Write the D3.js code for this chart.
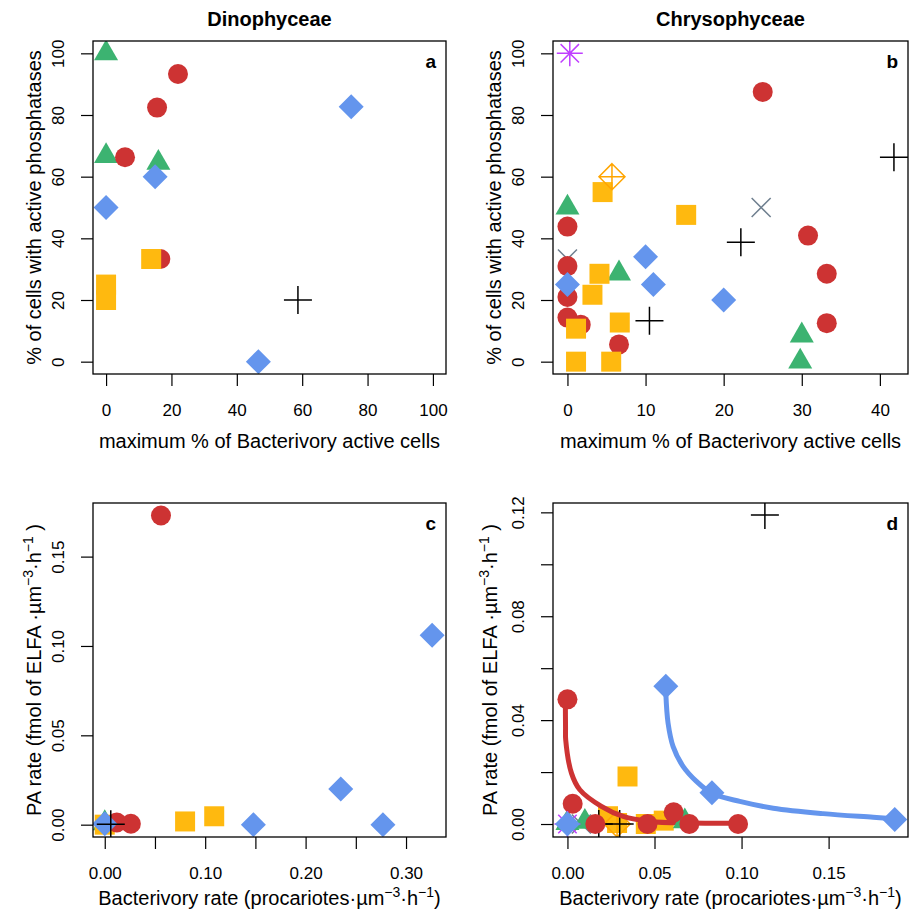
<!DOCTYPE html>
<html>
<head>
<meta charset="utf-8">
<script src="https://cdn.jsdelivr.net/npm/d3@7"></script>
<style>
  html, body { margin: 0; padding: 0; background: #fff; }
  svg { display: block; }
</style>
</head>
<body>
<svg id="fig" width="911" height="912"></svg>
<script>
// ---------- Data ----------
// Panel a: Dinophyceae, % cells with active phosphatases vs max % bacterivory-active cells
const dinoPctRed    = [[5.8, 66.3], [15.6, 82.4], [22, 93.3], [16.6, 33.3]];
const dinoPctGreen  = [[0, 100], [0, 66.7], [16, 64.5]];
const dinoPctYellow = [[13.8, 33.3], [0, 25], [0, 20]];
const dinoPctBlue   = [[75, 82.7], [15, 60], [0, 50], [46.6, 0]];
const dinoPctBlack  = [[58.7, 20]];

// Panel b: Chrysophyceae, same variables
const chrysoPctRed    = [[25, 87.5], [0, 43.8], [30.8, 40.9], [0, 31], [33.2, 28.5], [0, 21], [0, 14.3], [1.7, 12], [33.2, 12.5], [6.6, 5.6]];
const chrysoPctGreen  = [[0, 50], [6.6, 28.6], [30, 8.5], [29.8, 0]];
const chrysoPctYellow = [[4.5, 55], [15.2, 47.6], [4.1, 28.5], [3.2, 21.7], [1.1, 10.7], [6.7, 12.7], [1.1, 0], [5.6, 0]];
const chrysoPctBlue   = [[10, 34], [0, 25], [11, 25], [20, 20]];
const chrysoPctBlack  = [[41.8, 66.3], [22.2, 38.7], [10.5, 13.3]];
const chrysoPctGrey   = [[24.8, 50], [0, 33.3]];
const chrysoPctOrange = [[5.7, 60]];
const chrysoPctPurple = [[0.3, 100]];

// Panel c: Dinophyceae, PA rate vs bacterivory rate
const dinoRateRed    = [[0.056, 0.173], [0.012, 0.0012], [0.026, 0.0005]];
const dinoRateGreen  = [[0, 0.0008]];
const dinoRateYellow = [[0, 0], [0.080, 0.0018], [0.109, 0.0047]];
const dinoRateBlue   = [[0, 0.0005], [0.148, 0], [0.235, 0.020], [0.277, 0], [0.326, 0.106]];
const dinoRateBlack  = [[0.006, 0.0002]];

// Panel d: Chrysophyceae, PA rate vs bacterivory rate
const chrysoRateRed    = [[0, 0.048], [0.003, 0.0078], [0.016, 0], [0.046, 0], [0.061, 0.0045], [0.070, 0], [0.098, 0]];
const chrysoRateGreen  = [[0, 0.0004], [0.010, 0.0008], [0.0674, 0.001]];
const chrysoRateYellow = [[0.0345, 0.0183], [0.0233, 0.003], [0.0285, 0.0004], [0.045, 0], [0.0553, 0.0013]];
const chrysoRateBlue   = [[0, 0], [0.0565, 0.053], [0.083, 0.012], [0.188, 0.0017]];
const chrysoRateBlack  = [[0.018, 0], [0.030, 0], [0.1134, 0.119]];
const chrysoRateGrey   = [[0.008, 0]];
const chrysoRateOrange = [[0.0285, 0]];
const chrysoRatePurple = [[0, 0]];

// Fitted decay curves in panel d
const chrysoRedFit  = [[-0.0012, 0.047], [-0.0011, 0.037], [-0.001, 0.0324], [0.0023, 0.0196], [0.0071, 0.0132],
                       [0.0195, 0.0068], [0.032, 0.0029], [0.0473, 0.0010], [0.0703, 0.0004], [0.098, 0.0003]];
const chrysoBlueFit = [[0.0565, 0.0504], [0.0578, 0.0388], [0.0607, 0.0298], [0.0664, 0.0222], [0.0741, 0.0164],
                       [0.0828, 0.0119], [0.099, 0.0087], [0.1182, 0.0061], [0.1469, 0.0040], [0.1756, 0.0026], [0.1877, 0.0020]];

// Axis ticks and labels
const pctTicks       = [0, 20, 40, 60, 80, 100];
const chrysoPctXTicks = [0, 10, 20, 30, 40];
const dinoRateXTicks  = [0, 0.05, 0.10, 0.15, 0.20, 0.25, 0.30];
const dinoRateXLabels = [0, 0.10, 0.20, 0.30];
const dinoRateYTicks  = [0, 0.05, 0.10, 0.15];
const chrysoRateXTicks = [0, 0.05, 0.10, 0.15];
const chrysoRateYTicks = [0, 0.02, 0.04, 0.06, 0.08, 0.10, 0.12];
const chrysoRateYLabels = [0, 0.04, 0.08, 0.12];

const titles = ["Dinophyceae", "Chrysophyceae"];
const xTitlePct = "maximum % of Bacterivory active cells";
const yTitlePct = "% of cells with active phosphatases";

// ---------- Styles ----------
const FONT = "'Liberation Sans', Arial, Helvetica, sans-serif";
const groupStyle = {
  red:    { shape: "circle",      color: "#CD3333" },
  green:  { shape: "triangle",    color: "#3CB371" },
  yellow: { shape: "square",      color: "#FFB90F" },
  blue:   { shape: "diamond",     color: "#6495ED" },
  black:  { shape: "plus",        color: "#000000" },
  grey:   { shape: "cross",       color: "#708090" },
  orange: { shape: "diamondplus", color: "#FFA500" },
  purple: { shape: "asterisk",    color: "#BF3EFF" }
};

function markerPath(shape) {
  const p = d3.path();
  switch (shape) {
    case "circle":   return d3.symbol(d3.symbolCircle, Math.PI * 100)();
    case "square":   return d3.symbol(d3.symbolSquare, 400)();
    case "triangle": return d3.symbol(d3.symbolTriangle, 250)();
    case "diamond":
      p.moveTo(0, -12.5); p.lineTo(12.5, 0); p.lineTo(0, 12.5); p.lineTo(-12.5, 0); p.closePath();
      return p.toString();
    case "plus":
      p.moveTo(-14, 0); p.lineTo(14, 0); p.moveTo(0, -14); p.lineTo(0, 14);
      return p.toString();
    case "cross":
      p.moveTo(-9.5, -9.5); p.lineTo(9.5, 9.5); p.moveTo(-9.5, 9.5); p.lineTo(9.5, -9.5);
      return p.toString();
    case "asterisk":
      p.moveTo(-13, 0); p.lineTo(13, 0); p.moveTo(0, -13); p.lineTo(0, 13);
      p.moveTo(-9.2, -9.2); p.lineTo(9.2, 9.2); p.moveTo(-9.2, 9.2); p.lineTo(9.2, -9.2);
      return p.toString();
    case "diamondplus":
      p.moveTo(0, -13); p.lineTo(13, 0); p.lineTo(0, 13); p.lineTo(-13, 0); p.closePath();
      p.moveTo(-13, 0); p.lineTo(13, 0); p.moveTo(0, -13); p.lineTo(0, 13);
      return p.toString();
  }
}
const filledShapes = new Set(["circle", "square", "triangle", "diamond"]);

const svg = d3.select("#fig");
svg.append("rect").attr("width", 911).attr("height", 912).attr("fill", "#fff");

function richText(sel, parts, size) {
  parts.forEach((part, i) => {
    const t = sel.append("tspan").text(part.t);
    if (part.sup) t.attr("font-size", size * 0.7).attr("dy", -size * 0.42);
    else if (i > 0 && parts[i - 1].sup) t.attr("dy", size * 0.42);
  });
}

function drawPanel(cfg) {
  const { id, box, xDomain, yDomain, xTicks, xLabels, yTicks, yLabels, fmtX, fmtY, layers, letter } = cfg;
  const x = d3.scaleLinear().domain(xDomain).range([box.left, box.right]);
  const y = d3.scaleLinear().domain(yDomain).range([box.bottom, box.top]);

  svg.append("clipPath").attr("id", "clip-" + id)
    .append("rect").attr("x", box.left).attr("y", box.top)
    .attr("width", box.right - box.left).attr("height", box.bottom - box.top);

  const g = svg.append("g");

  // x axis
  const gx = g.append("g").attr("transform", `translate(0,${box.bottom})`)
    .call(d3.axisBottom(x).tickValues(xTicks).tickSize(12).tickPadding(18)
      .tickFormat(d => xLabels.includes(d) ? fmtX(d) : ""));
  gx.select(".domain").remove();
  gx.selectAll(".tick line").attr("stroke", "#000").attr("stroke-width", 1.2);
  gx.selectAll(".tick text").attr("font-family", FONT).attr("font-size", 17).attr("fill", "#000");

  // y axis, labels parallel to the axis
  const gy = g.append("g").attr("transform", `translate(${box.left},0)`)
    .call(d3.axisLeft(y).tickValues(yTicks).tickSize(12)
      .tickFormat(d => yLabels.includes(d) ? fmtY(d) : ""));
  gy.select(".domain").remove();
  gy.selectAll(".tick line").attr("stroke", "#000").attr("stroke-width", 1.2);
  gy.selectAll(".tick text")
    .attr("x", 0).attr("dy", 0)
    .attr("transform", "translate(-29,0) rotate(-90)")
    .attr("text-anchor", "middle")
    .attr("font-family", FONT).attr("font-size", 17).attr("fill", "#000");

  // marks
  const plot = g.append("g").attr("clip-path", `url(#clip-${id})`);
  const line = d3.line().x(d => x(d[0])).y(d => y(d[1])).curve(d3.curveCatmullRom.alpha(0.5));
  layers.forEach(layer => {
    if (layer.curve) {
      plot.append("path").datum(layer.curve)
        .attr("d", line).attr("fill", "none")
        .attr("stroke", groupStyle[layer.group].color)
        .attr("stroke-width", 5).attr("stroke-linecap", "round");
      return;
    }
    const st = groupStyle[layer.group];
    const filled = filledShapes.has(st.shape);
    plot.append("g").selectAll("path").data(layer.points).join("path")
      .attr("transform", d => `translate(${x(d[0])},${y(d[1])})`)
      .attr("d", markerPath(st.shape))
      .attr("fill", filled ? st.color : "none")
      .attr("stroke", filled ? "none" : st.color)
      .attr("stroke-width", filled ? 0 : 1.5);
  });

  // frame
  g.append("rect").attr("x", box.left).attr("y", box.top)
    .attr("width", box.right - box.left).attr("height", box.bottom - box.top)
    .attr("fill", "none").attr("stroke", "#000").attr("stroke-width", 1.3);

  // panel letter
  g.append("text").attr("x", box.right - 10).attr("y", box.top + 27)
    .attr("text-anchor", "end").attr("font-family", FONT)
    .attr("font-weight", "bold").attr("font-size", 19).text(letter);

  return { x, y };
}

const fmtInt = d3.format("d");
const fmt2 = d3.format(".2f");

const boxA = { left: 93,  right: 446, top: 41,  bottom: 374 };
const boxB = { left: 553, right: 908, top: 41,  bottom: 374 };
const boxC = { left: 93,  right: 446, top: 503, bottom: 837 };
const boxD = { left: 553, right: 908, top: 503, bottom: 837 };

drawPanel({
  id: "a", letter: "a", box: boxA, xDomain: [-4, 104], yDomain: [-4, 104],
  xTicks: pctTicks, xLabels: pctTicks, yTicks: pctTicks, yLabels: pctTicks, fmtX: fmtInt, fmtY: fmtInt,
  layers: [
    { group: "green", points: dinoPctGreen },
    { group: "red", points: dinoPctRed },
    { group: "yellow", points: dinoPctYellow },
    { group: "blue", points: dinoPctBlue },
    { group: "black", points: dinoPctBlack }
  ]
});

drawPanel({
  id: "b", letter: "b", box: boxB, xDomain: [-1.85, 43.6], yDomain: [-4, 104],
  xTicks: chrysoPctXTicks, xLabels: chrysoPctXTicks, yTicks: pctTicks, yLabels: pctTicks, fmtX: fmtInt, fmtY: fmtInt,
  layers: [
    { group: "grey", points: chrysoPctGrey },
    { group: "green", points: chrysoPctGreen },
    { group: "red", points: chrysoPctRed },
    { group: "yellow", points: chrysoPctYellow },
    { group: "orange", points: chrysoPctOrange },
    { group: "blue", points: chrysoPctBlue },
    { group: "purple", points: chrysoPctPurple },
    { group: "black", points: chrysoPctBlack }
  ]
});

drawPanel({
  id: "c", letter: "c", box: boxC, xDomain: [-0.0117, 0.3398], yDomain: [-0.0069, 0.1800],
  xTicks: dinoRateXTicks, xLabels: dinoRateXLabels, yTicks: dinoRateYTicks, yLabels: dinoRateYTicks, fmtX: fmt2, fmtY: fmt2,
  layers: [
    { group: "green", points: dinoRateGreen },
    { group: "yellow", points: dinoRateYellow },
    { group: "red", points: dinoRateRed },
    { group: "blue", points: dinoRateBlue },
    { group: "black", points: dinoRateBlack }
  ]
});

drawPanel({
  id: "d", letter: "d", box: boxD, xDomain: [-0.0083, 0.1956], yDomain: [-0.0050, 0.1236],
  xTicks: chrysoRateXTicks, xLabels: chrysoRateXTicks, yTicks: chrysoRateYTicks, yLabels: chrysoRateYLabels, fmtX: fmt2, fmtY: fmt2,
  layers: [
    { group: "grey", points: chrysoRateGrey },
    { group: "yellow", points: chrysoRateYellow },
    { group: "orange", points: chrysoRateOrange },
    { group: "black", points: chrysoRateBlack },
    { group: "red", curve: chrysoRedFit },
    { group: "blue", curve: chrysoBlueFit },
    { group: "green", points: chrysoRateGreen },
    { group: "red", points: chrysoRateRed },
    { group: "purple", points: chrysoRatePurple },
    { group: "blue", points: chrysoRateBlue }
  ]
});

// ---------- Titles ----------
svg.append("text").attr("x", (boxA.left + boxA.right) / 2).attr("y", 26)
  .attr("text-anchor", "middle").attr("font-family", FONT).attr("font-weight", "bold")
  .attr("font-size", 20).text(titles[0]);
svg.append("text").attr("x", (boxB.left + boxB.right) / 2).attr("y", 26)
  .attr("text-anchor", "middle").attr("font-family", FONT).attr("font-weight", "bold")
  .attr("font-size", 20).text(titles[1]);

// x-axis titles
[boxA, boxB].forEach(b => {
  svg.append("text").attr("x", (b.left + b.right) / 2).attr("y", 448)
    .attr("text-anchor", "middle").attr("font-family", FONT).attr("font-size", 20)
    .text(xTitlePct);
});
const rateXParts = [{ t: "Bacterivory rate (procariotes·µm" }, { t: "\u22123", sup: true }, { t: "·h" }, { t: "\u22121", sup: true }, { t: ")" }];
[boxC, boxD].forEach(b => {
  const t = svg.append("text").attr("x", (b.left + b.right) / 2).attr("y", 905)
    .attr("text-anchor", "middle").attr("font-family", FONT).attr("font-size", 20);
  richText(t, rateXParts, 20);
});

// y-axis titles
[[boxA, 41], [boxB, 501]].forEach(([b, bx]) => {
  svg.append("text").attr("transform", `translate(${bx},${(b.top + b.bottom) / 2}) rotate(-90)`)
    .attr("text-anchor", "middle").attr("font-family", FONT).attr("font-size", 20)
    .text(yTitlePct);
});
const rateYParts = [{ t: "PA rate (fmol of ELFA ·µm" }, { t: "\u22123", sup: true }, { t: "·h" }, { t: "\u22121", sup: true }, { t: " )" }];
[[boxC, 41], [boxD, 497]].forEach(([b, bx]) => {
  const t = svg.append("text").attr("transform", `translate(${bx},${(b.top + b.bottom) / 2}) rotate(-90)`)
    .attr("text-anchor", "middle").attr("font-family", FONT).attr("font-size", 20);
  richText(t, rateYParts, 20);
});
</script>
</body>
</html>
